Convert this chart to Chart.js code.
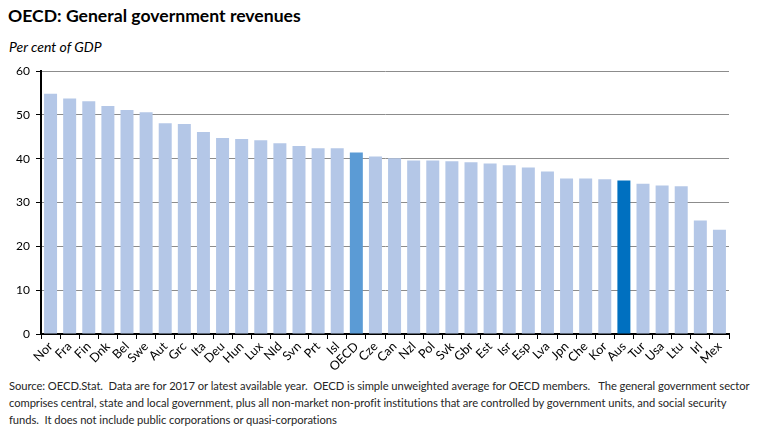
<!DOCTYPE html>
<html><head><meta charset="utf-8">
<script src="https://cdn.jsdelivr.net/npm/chart.js@4"></script>
<style>
html,body{margin:0;padding:0;background:#fff;width:768px;height:431px;overflow:hidden;font-family:Lato,"Open Sans",sans-serif;}
#title{position:absolute;left:8px;top:5px;font-weight:bold;font-size:17.6px;color:#000;}
#sub{position:absolute;left:9px;top:38px;font-style:italic;font-size:14px;color:#000;}
#wrap{position:absolute;left:0;top:55px;width:768px;height:320px;}
#foot{position:absolute;left:9px;top:377px;font-size:11.2px;letter-spacing:-0.05px;line-height:17px;color:#262626;white-space:nowrap;}
</style></head>
<body>
<div id="title">OECD: General government revenues</div>
<div id="sub">Per cent of GDP</div>
<div id="wrap"><canvas id="c"></canvas></div>
<div id="foot">Source: OECD.Stat.&nbsp; Data are for 2017 or latest available year.&nbsp; OECD is simple unweighted average for OECD members.&nbsp;&nbsp; The general government sector<br>comprises central, state and local government, plus all non-market non-profit institutions that are controlled by government units, and social security<br>funds.&nbsp; It does not include public corporations or quasi-corporations</div>
<script>
const categories = ["Nor","Fra","Fin","Dnk","Bel","Swe","Aut","Grc","Ita","Deu","Hun","Lux","Nld","Svn","Prt","Isl","OECD","Cze","Can","Nzl","Pol","Svk","Gbr","Est","Isr","Esp","Lva","Jpn","Che","Kor","Aus","Tur","Usa","Ltu","Irl","Mex"];
const revenues = [54.8,53.7,53.1,52.0,51.1,50.6,48.1,47.9,46.1,44.7,44.5,44.2,43.5,42.9,42.4,42.4,41.4,40.5,40.1,39.6,39.6,39.4,39.2,38.9,38.5,38.0,37.1,35.5,35.5,35.3,35.0,34.3,33.9,33.7,25.9,23.8];
const yTicks = [0,10,20,30,40,50,60];
const highlight = {"OECD":"#5B9BD5","Aus":"#0070C0"};
const baseColor = "#B4C7E7";

new Chart(document.getElementById('c'), {
  type:'bar',
  data:{labels:categories,datasets:[{data:revenues,backgroundColor:categories.map(c=>highlight[c]||baseColor),barPercentage:0.68,categoryPercentage:1}]},
  options:{
    responsive:true,maintainAspectRatio:false,animation:false,
    layout:{padding:{left:0,right:39,top:16,bottom:0}},
    plugins:{legend:{display:false},tooltip:{enabled:false}},
    scales:{
      x:{
        grid:{display:true,drawOnChartArea:false,drawTicks:true,tickLength:5,tickColor:'#000',offset:true},
        border:{color:'#000',width:2},
        ticks:{color:'#000',font:{family:'Lato',size:12.5},minRotation:45,maxRotation:45,autoSkip:false,padding:0},
        afterFit(s){s.height=41;}
      },
      y:{
        min:0,max:60,
        afterBuildTicks(s){s.ticks=yTicks.map(v=>({value:v}));},
        grid:{color:'#8c8c8c',lineWidth:1,tickLength:5,tickColor:'#000'},
        border:{color:'#000',width:2},
        ticks:{color:'#000',font:{family:'Lato',size:12},padding:6},
        afterFit(s){s.width=41;}
      }
    }
  }
});
</script>
</body></html>
